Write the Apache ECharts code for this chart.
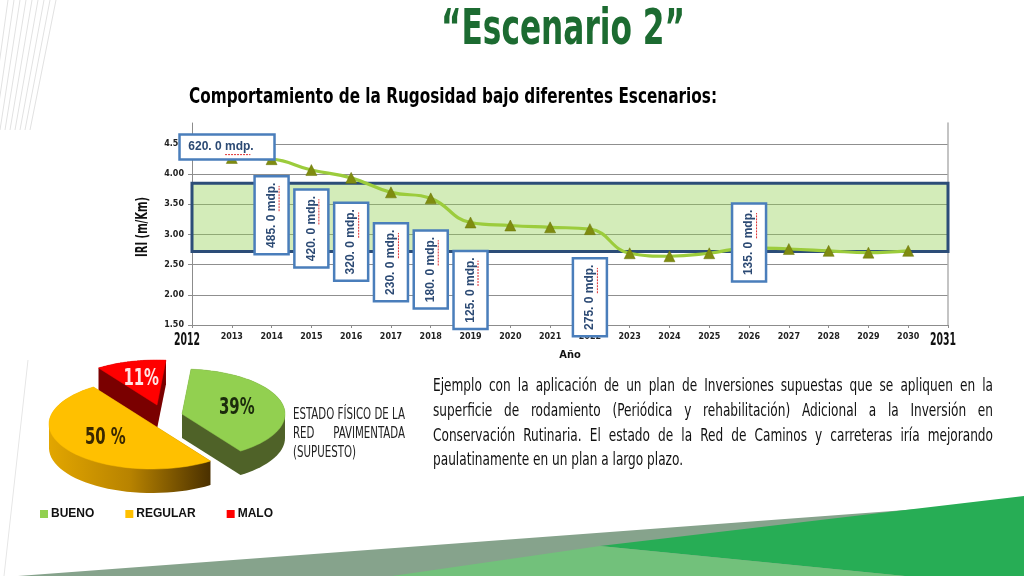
<!DOCTYPE html>
<html>
<head>
<meta charset="utf-8">
<script src="https://cdn.jsdelivr.net/npm/echarts@6/dist/echarts.min.js"></script>
<style>
html,body{margin:0;padding:0;background:#fff;}
#c{width:1024px;height:576px;}
</style>
</head>
<body>
<div id="c"></div>
<script>
// ---------------- DATA ----------------
const years = [2013,2014,2015,2016,2017,2018,2019,2020,2021,2022,2023,2024,2025,2026,2027,2028,2029,2030];
const iriValues = [4.27,4.25,4.07,3.94,3.70,3.60,3.20,3.15,3.12,3.09,2.69,2.64,2.69,2.78,2.76,2.73,2.70,2.73];
const targetBand = [2.72, 3.85];
const investYears = [2013,2014,2015,2016,2017,2018,2019,2022,2026];
const investAmounts = [620,485,420,320,230,180,125,275,135];
const pieCategories = ['BUENO','REGULAR','MALO'];
const pieValues = [39,50,11];
const pieLabels = ['39%','50 %','11%'];
const endYearLabels = [2012, 2031];

const titleText = '\u201cEscenario 2\u201d';
const subtitleText = 'Comportamiento de la Rugosidad bajo diferentes Escenarios:';
const yAxisTitle = 'IRI (m/Km)';
const paragraphLines = [
  'Ejemplo con la aplicación de un plan de Inversiones supuestas que se apliquen en la',
  'superficie de rodamiento (Periódica y rehabilitación) Adicional a la Inversión en',
  'Conservación Rutinaria. El estado de la Red de Caminos y carreteras iría mejorando',
  'paulatinamente en un plan a largo plazo.'
];
const pieNoteLines = ['ESTADO FÍSICO DE LA','RED PAVIMENTADA','(SUPUESTO)'];

// ---------------- LAYOUT / STYLE ----------------
const COND2 = "'DejaVu Sans Condensed',sans-serif";
const BOX_LAYOUT = {
  2013:{y:4.45, dx:-0.12, h:true},
  2014:{y:3.32}, 2015:{y:3.10}, 2016:{y:2.88}, 2017:{y:2.54},
  2018:{y:2.42}, 2019:{y:2.08}, 2022:{y:1.96}, 2026:{y:2.87}
};
const PIE = {cx:165, cy:415, a:103, b:45, depth:24, start:5*Math.PI/180,
  explode:[[17,-1],[-13,9],[-8,-10]], labelK:[0.55,0.55,0.6],
  top:['#92d050','#ffc000','#ff0000'],
  side:['#4f6228',
        {type:'linear',x:0,y:0,x2:1,y2:0,colorStops:[{offset:0,color:'#e2a600'},{offset:0.5,color:'#b88300'},{offset:1,color:'#4a3000'}]},
        '#7a0000'],
  labelColor:['#1b2b0c','#3a2800','#ffe4e4'],
  z:[4,5,3]};

const mctx = document.createElement('canvas').getContext('2d');
function tw(text, font){ mctx.font = font; return mctx.measureText(text).width; }

function textLine(str, x, y, width, font, color, justify, sx){
  const els = [];
  if(!justify){
    els.push({type:'text', x:x, y:y, scaleX:sx, style:{text:str, font:font, fill:color, verticalAlign:'middle'}});
    return els;
  }
  const words = str.split(' ');
  const ws = words.map(w => tw(w,font)*sx);
  const total = ws.reduce((a,b)=>a+b,0);
  const gap = (width-total)/(words.length-1);
  let cx = x;
  words.forEach((w,i)=>{
    els.push({type:'text', x:cx, y:y, scaleX:sx, style:{text:w, font:font, fill:color, verticalAlign:'middle'}});
    cx += ws[i]+gap;
  });
  return els;
}

function convexHull(pts){
  const p = pts.slice().sort((a,b)=>a[0]-b[0]||a[1]-b[1]);
  const cross=(o,a,b)=>(a[0]-o[0])*(b[1]-o[1])-(a[1]-o[1])*(b[0]-o[0]);
  const lower=[]; for(const q of p){ while(lower.length>=2&&cross(lower[lower.length-2],lower[lower.length-1],q)<=0) lower.pop(); lower.push(q);}
  const upper=[]; for(let i=p.length-1;i>=0;i--){const q=p[i]; while(upper.length>=2&&cross(upper[upper.length-2],upper[upper.length-1],q)<=0) upper.pop(); upper.push(q);}
  upper.pop(); lower.pop(); return lower.concat(upper);
}

const pieTotal = pieValues.reduce((a,b)=>a+b,0);
function pieSeries(i){
  return {
    type:'custom', name:pieCategories[i], coordinateSystem:'none', z:PIE.z[i], silent:true,
    itemStyle:{color:PIE.top[i]},
    data:[[pieValues[i]]],
    renderItem:function(params, api){
      const before = pieValues.slice(0,i).reduce((a,b)=>a+b,0);
      const t0 = PIE.start+before/pieTotal*2*Math.PI, t1 = PIE.start+(before+api.value(0))/pieTotal*2*Math.PI;
      const cx = PIE.cx+PIE.explode[i][0], cy = PIE.cy+PIE.explode[i][1];
      const P = t => [cx+PIE.a*Math.sin(t), cy-PIE.b*Math.cos(t)];
      const top = [[cx,cy]];
      const n = 48;
      for(let k=0;k<=n;k++) top.push(P(t0+(t1-t0)*k/n));
      const bottom = top.map(p=>[p[0],p[1]+PIE.depth]);
      const hull = convexHull(top.concat(bottom));
      const tm = (t0+t1)/2, k = PIE.labelK[i];
      const lx = cx+PIE.a*Math.sin(tm)*k, ly = cy-PIE.b*Math.cos(tm)*k;
      const lfont = 'bold 23px '+COND2;
      const lsx = 0.72;
      const lw = tw(pieLabels[i], lfont)*lsx;
      return {type:'group', children:[
        {type:'polygon', shape:{points:hull}, style:{fill:PIE.side[i]}},
        {type:'polygon', shape:{points:top}, style:{fill:PIE.top[i], stroke:PIE.top[i], lineWidth:0.5}},
        {type:'text', x:lx-lw/2, y:ly, scaleX:lsx, style:{text:pieLabels[i], font:lfont, fill:PIE.labelColor[i], verticalAlign:'middle'}}
      ]};
    }
  };
}

// ---------------- GRAPHICS (slide text & decoration) ----------------
const graphics = [];
for(let i=0;i<9;i++){
  graphics.push({type:'line', shape:{x1:8+i*6, y1:0, x2:-10+i*5, y2:130}, style:{stroke:'#e2e2e2', lineWidth:1}, z:-1});
}
graphics.push({type:'line', shape:{x1:28, y1:360, x2:4, y2:576}, style:{stroke:'#e6e6e6', lineWidth:1}, z:-1});
graphics.push({type:'polygon', shape:{points:[[18,576],[1000,503],[1024,502],[1024,576]]}, style:{fill:'#86a38c'}, z:-1});
graphics.push({type:'polygon', shape:{points:[[600,546],[1024,496],[1024,576],[905,576]]}, style:{fill:'#27ad55'}, z:-1});
graphics.push({type:'polygon', shape:{points:[[392,576],[600,546],[905,576]]}, style:{fill:'#72c17b'}, z:-1});

(function(){
  const f = 'bold 50px '+COND2;
  const sx = 244/tw(titleText,f);
  graphics.push({type:'text', x:563-244/2, y:31, scaleX:sx, style:{text:titleText, font:f, fill:'#1c6b31', verticalAlign:'middle'}});
  const f2 = 'bold 22px '+COND2;
  const sx2 = 528/tw(subtitleText,f2);
  graphics.push({type:'text', x:189, y:97, scaleX:sx2, style:{text:subtitleText, font:f2, fill:'#000', verticalAlign:'middle'}});
  const f3 = '17px '+COND2;
  const sx3 = 250/tw(paragraphLines[3],f3);
  const ys = [387,412,437,461];
  paragraphLines.forEach((ln,i)=>{
    textLine(ln, 433, ys[i], 560, f3, '#111', i<3, sx3).forEach(e=>graphics.push(e));
  });
  const f4 = '15px '+COND2;
  const sx4 = 112/tw(pieNoteLines[0],f4);
  const ys4 = [415,434,453];
  pieNoteLines.forEach((ln,i)=>{
    textLine(ln, 293, ys4[i], 112, f4, '#222', i<2, sx4).forEach(e=>graphics.push(e));
  });
  const f5 = 'bold 16px '+COND2;
  const sx5 = 60/tw(yAxisTitle,f5);
  graphics.push({type:'text', x:143, y:227, rotation:Math.PI/2, scaleX:sx5,
    style:{text:yAxisTitle, font:f5, fill:'#111', align:'center', verticalAlign:'middle'}});
})();

// ---------------- CHART ----------------
const chart = echarts.init(document.getElementById('c'), null, {renderer:'canvas'});
const option = {
  backgroundColor:'#ffffff',
  animation:false,
  textStyle:{fontFamily:"'DejaVu Sans',sans-serif"},
  grid:{left:192, right:76, top:123, bottom:251, containLabel:false, outerBoundsMode:'none'},
  legend:{
    data:pieCategories, left:40, top:508, padding:0, icon:'rect', itemWidth:8, itemHeight:8, itemGap:31,
    textStyle:{fontFamily:"'Liberation Sans',sans-serif", fontWeight:'bold', fontSize:12, color:'#111', padding:[0,0,0,-2]},
    selectedMode:false
  },
  xAxis:{
    type:'value', min:2012, max:2031, interval:1,
    name:'Año', nameLocation:'middle', nameGap:25,
    nameTextStyle:{fontFamily:COND2, fontWeight:'bold', fontSize:11, color:'#111'},
    axisLine:{show:true, lineStyle:{color:'#8c8c8c', width:1}},
    axisTick:{show:true, length:3, lineStyle:{color:'#8c8c8c'}},
    splitLine:{show:false},
    axisLabel:{
      margin:8, fontFamily:"'DejaVu Sans',sans-serif", fontWeight:'bold', fontSize:8, color:'#222',
      formatter:function(v){ return endYearLabels.indexOf(v) >= 0 ? '' : String(v); }
    }
  },
  yAxis:[{
    type:'value', min:1.5, max:4.85, interval:0.5,
    axisLine:{show:true, lineStyle:{color:'#8c8c8c'}},
    axisTick:{show:true, length:4, lineStyle:{color:'#8c8c8c'}},
    splitLine:{show:true, showMaxLine:false, showMinLine:false, lineStyle:{color:'#8f8f8f', width:1.2}},
    axisLabel:{showMaxLabel:false, margin:8, fontFamily:"'DejaVu Sans',sans-serif", fontWeight:'bold', fontSize:8, color:'#222',
      formatter:function(v){ return v.toFixed(2); }}
  },{
    type:'value', min:1.5, max:4.85, interval:0.5, position:'right',
    axisLine:{show:true, lineStyle:{color:'#b0b0b0', width:1.5}},
    axisTick:{show:false}, axisLabel:{show:false}, splitLine:{show:false}
  }],
  series:[
    {
      type:'line', name:'IRI', xAxisIndex:0, yAxisIndex:0, z:3,
      data: years.map((y,i)=>[y, iriValues[i]]),
      smooth:0.45,
      lineStyle:{color:'#9ccc3c', width:3.2},
      symbol:'triangle', symbolSize:11,
      itemStyle:{color:'#7f8c10', borderColor:'#6a7508', borderWidth:0.5},
      markArea:{
        silent:true,
        itemStyle:{color:'rgba(146,208,80,0.40)', borderColor:'#2c4d78', borderWidth:3},
        data:[[{xAxis:2012, yAxis:targetBand[1]},{xAxis:2031, yAxis:targetBand[0]}]]
      }
    },
    {
      type:'custom', name:'Inversión', xAxisIndex:0, yAxisIndex:0, clip:false, z:10, silent:true,
      data: investYears.map((y,i)=>[y, investAmounts[i]]),
      renderItem:function(params, api){
        const yr = api.value(0), amt = api.value(1);
        const L = BOX_LAYOUT[yr];
        const c = api.coord([yr+(L.dx||0), L.y]);
        const w = L.h ? 95 : 34, h = L.h ? 25 : 78;
        const num = amt.toFixed(1).replace('.', '. ')+' ';
        const txt = num+'mdp.';
        const font = "bold 12px 'Liberation Sans',sans-serif";
        const W = tw(txt,font), off = tw(num,font), mw = tw('mdp',font);
        return {type:'group', children:[
          {type:'rect', shape:{x:c[0]-w/2, y:c[1]-h/2, width:w, height:h}, style:{fill:'#ffffff', stroke:'#4a7ebb', lineWidth:2.5}},
          {type:'group', x:L.h ? c[0]-6 : c[0], y:c[1], rotation:L.h?0:Math.PI/2, children:[
            {type:'text', x:0, y:0, style:{text:txt, font:font, fill:'#2c4a74', align:'center', verticalAlign:'middle'}},
            {type:'line', shape:{x1:-W/2+off, y1:7.5, x2:-W/2+off+mw, y2:7.5}, style:{stroke:'#e03030', lineWidth:1, lineDash:[2,1]}}
          ]}
        ]};
      }
    },
    pieSeries(0), pieSeries(1), pieSeries(2)
  ],
  graphic:graphics
};
chart.setOption(option);

// end-year labels (2012 / 2031) in a condensed display face, placed by the x axis scale
(function(){
  const f = 'bold 18px '+COND2;
  const extra = endYearLabels.map(v=>{
    const p = chart.convertToPixel({xAxisIndex:0, yAxisIndex:0}, [v, 1.5]);
    const s = 26/tw(String(v),f);
    return {type:'text', x:p[0]-5-13, y:p[1]+15, scaleX:s, style:{text:String(v), font:f, fill:'#111', verticalAlign:'middle'}};
  });
  chart.setOption({graphic:graphics.concat(extra)}, {replaceMerge:['graphic']});
})();
</script>
</body>
</html>
